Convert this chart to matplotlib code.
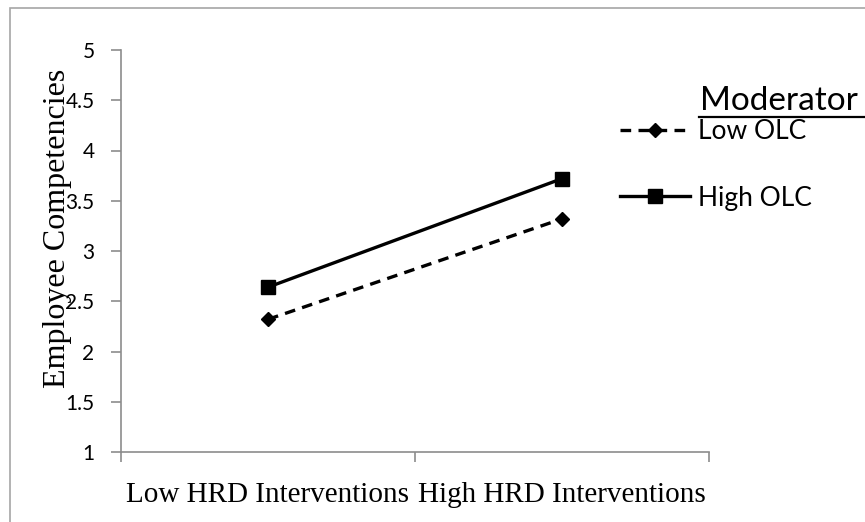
import matplotlib
matplotlib.use("Agg")
import matplotlib.pyplot as plt
from matplotlib.lines import Line2D
from matplotlib.patches import Rectangle

categories = ["Low HRD Interventions", "High HRD Interventions"]
low_olc = [2.32, 3.32]
high_olc = [2.64, 3.72]
series_names = ["Low OLC", "High OLC"]
y_ticks = [1, 1.5, 2, 2.5, 3, 3.5, 4, 4.5, 5]
y_tick_labels = ["1", "1.5", "2", "2.5", "3", "3.5", "4", "4.5", "5"]

W, H = 865, 522
fig = plt.figure(figsize=(W / 100, H / 100), dpi=100)
ax = fig.add_axes([121 / W, 1 - 452 / H, (709 - 121) / W, (452 - 50) / H])

# outer frame (chart area border, cropped on right/bottom)
fig.patches.append(Rectangle((9.5 / W, -0.1), 1.2, 1 - 8 / H + 0.1, transform=fig.transFigure,
                             fill=False, edgecolor="#a6a6a6", linewidth=1.2))

x = list(range(len(categories)))
ax.plot(x, low_olc, color="black", linestyle=(0, (3.2, 2.2)), linewidth=2.4,
        marker="D", markersize=7.5, label=series_names[0])
ax.plot(x, high_olc, color="black", linestyle="-", linewidth=2.4,
        marker="s", markersize=10, label=series_names[1])

ax.set_xlim(-0.5, 1.5)
ax.set_ylim(1, 5)

for s in ["top", "right"]:
    ax.spines[s].set_visible(False)
for s in ["left", "bottom"]:
    ax.spines[s].set_color("#8c8c8c")
    ax.spines[s].set_linewidth(1.2)

ax.set_yticks(y_ticks)
ax.set_yticklabels(y_tick_labels, fontfamily="Lato", fontsize=15)
ax.tick_params(axis="y", direction="out", length=7, width=1.2, color="#8c8c8c", pad=12)

ax.set_xticks([-0.5, 0.5, 1.5])
ax.set_xticklabels(["", "", ""])
ax.set_xticks(x, minor=True)
ax.set_xticklabels(categories, minor=True, fontfamily="Liberation Serif", fontsize=21)
ax.tick_params(axis="x", which="major", direction="out", length=7, width=1.2, color="#8c8c8c")
ax.tick_params(axis="x", which="minor", length=0, pad=21.5)

ax.set_ylabel("Employee Competencies", fontfamily="Liberation Serif", fontsize=23)
ax.yaxis.set_label_coords(-0.108, 0.557)
ax.yaxis.label.set_verticalalignment("center")

leg = ax.legend(loc="upper left", bbox_to_anchor=(620 / W, 1 - 119 / H),
                bbox_transform=fig.transFigure, frameon=False,
                prop={"family": "Lato", "size": 19}, handlelength=2.65,
                handletextpad=0.3, labelspacing=1.58, borderpad=0, borderaxespad=0)

fig.text(700 / W, 1 - 110 / H, "Moderator", fontfamily="Lato", fontsize=24,
         ha="left", va="baseline")
fig.add_artist(Line2D([699 / W, 1.0], [1 - 117 / H, 1 - 117 / H],
                      transform=fig.transFigure, color="black", linewidth=1.6))

fig.savefig("out.png", dpi=100)
